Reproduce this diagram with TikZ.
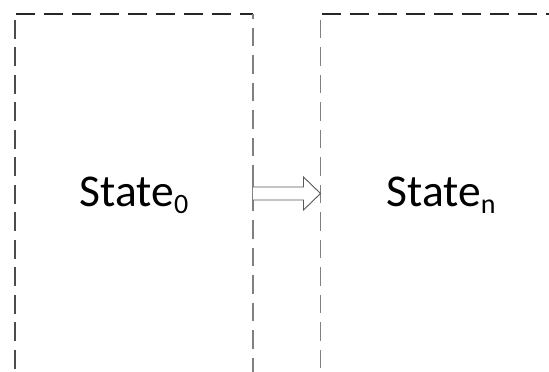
\documentclass[tikz,border=0pt]{standalone}
\usepackage{fontspec}
\setmainfont{Carlito}
\usetikzlibrary{calc}
\tikzset{
  topedge/.style={draw=black!85, line width=1.8pt, dash pattern=on 19.5pt off 8.5pt},
  outeredge/.style={draw=black!70, line width=1.6pt, dash pattern=on 19pt off 8.5pt},
  midedge/.style={draw=black!50, line width=1.6pt, dash pattern=on 18.5pt off 9pt},
  statelabel/.style={anchor=base, inner sep=0pt, font=\fontsize{45.5}{54}\selectfont},
  arrowshape/.style={draw=black!65, line width=0.9pt, fill=white, line join=miter}
}
\newcommand{\mysub}[1]{\raisebox{-6.5pt}{\fontsize{28}{30}\selectfont #1}}
\begin{document}
\begin{tikzpicture}[x=1pt,y=1pt]
\useasboundingbox (0,0) rectangle (549,372);
\begin{scope}
\clip (0,0) rectangle (549,372);
% left box
\coordinate (LTL) at (14.7,358);
\coordinate (LTR) at (253,358);
\coordinate (LBL) at (14.7,-20);
\coordinate (LBR) at (253,-20);
\draw[topedge] ([xshift=1pt]LTL) -- (LTR);
\draw[outeredge, dash phase=-6pt] (LTL) -- (LBL);
\draw[midedge, dash phase=-14pt] (LTR) -- (LBR);
% right box
\coordinate (RTL) at (320.5,358);
\coordinate (RTR) at (580,358);
\coordinate (RBL) at (320.5,-20);
\draw[topedge] ([xshift=1pt]RTL) -- (RTR);
\draw[midedge, dash phase=-6pt] (RTL) -- (RBL);
\end{scope}
% labels
\node[statelabel] (s0) at (134,165) {State\mysub{0}};
\node[statelabel] (sn) at (441,165) {State\mysub{n}};
% arrow between the boxes
\coordinate (a0) at (253,178.5);
\coordinate (a1) at (320.5,178.5);
\draw[black!50, line width=1.6pt] ($(a0)+(0,21)$) -- ($(a0)+(0,-16)$);
\draw[arrowshape] ($(a0)+(0,6.5)$) -- ($(a1)+(-17,6.5)$) -- ($(a1)+(-17,16.5)$) -- (a1)
  -- ($(a1)+(-17,-16.5)$) -- ($(a1)+(-17,-6.5)$) -- ($(a0)+(0,-6.5)$);
\end{tikzpicture}
\end{document}
